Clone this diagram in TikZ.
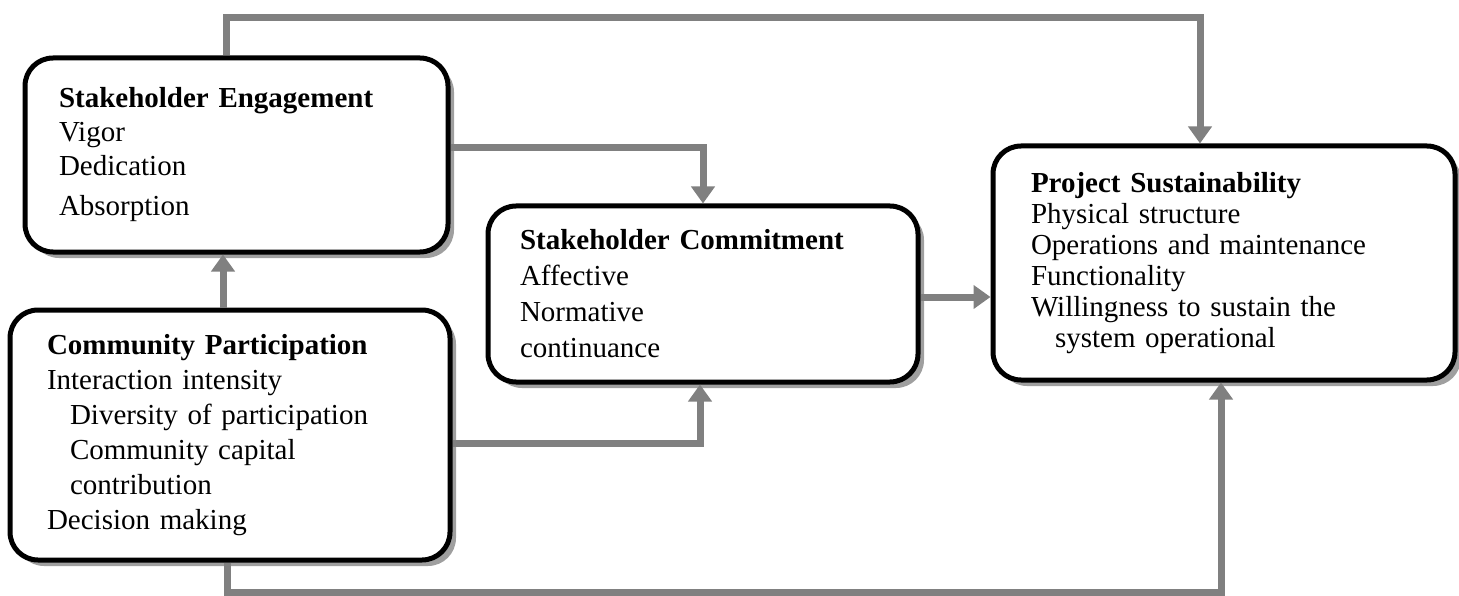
\documentclass[tikz,border=0pt]{standalone}
\usepackage{fontspec}
\setmainfont{Liberation Serif}
\usetikzlibrary{arrows.meta,shadows}

\begin{document}
\begin{tikzpicture}[x=1pt,y=-1pt,
    box/.style={draw,line width=5pt,rounded corners=28pt,fill=white,align=left,
      drop shadow={shadow xshift=6pt,shadow yshift=-6pt,fill=gray!75,opacity=1}},
    conn/.style={draw=gray,line width=7pt,-{Triangle[length=17pt,width=23pt]}}]
    \useasboundingbox (0,0) rectangle (1459,596);
    \node[box,text width=355pt,inner xsep=34pt,minimum height=194pt,
      font=\fontsize{29}{34}\selectfont] (eng) at (236.5,155)
      {\textbf{Stakeholder Engagement}\\ Vigor\\ Dedication\\[6pt] Absorption};
    \node[box,text width=366pt,inner xsep=37pt,minimum height=250pt,
      font=\fontsize{29}{35}\selectfont] (com) at (230,435)
      {\textbf{Community Participation}\\ Interaction intensity\\
       \hspace*{23pt}Diversity of participation\\ \hspace*{23pt}Community capital\\
       \hspace*{23pt}contribution\\ Decision making};
    \node[box,text width=366pt,inner xsep=32pt,minimum height=176pt,
      font=\fontsize{29}{36}\selectfont] (cmt) at (703,294)
      {\textbf{Stakeholder Commitment}\\ Affective\\ Normative\\ continuance};
    \node[box,text width=386pt,inner xsep=38pt,minimum height=234pt,
      font=\fontsize{29}{31}\selectfont] (sus) at (1224,263)
      {\textbf{Project Sustainability}\\ Physical structure\\ Operations and maintenance\\
       Functionality\\ Willingness to sustain the\\ \hspace*{24pt}system operational};

    \draw[conn] ([xshift=-10pt]eng.north) -- ++(0,-38) -| ([xshift=-24pt]sus.north);
    \draw[conn] ([yshift=7pt]eng.east) -| (cmt.north);
    \draw[conn] ([xshift=-7pt]com.north) -- ([xshift=-7pt]com.north |- eng.south);
    \draw[conn] ([yshift=-8pt]com.east) -| ([xshift=-3pt]cmt.south);
    \draw[conn] ([yshift=-3pt]cmt.east) -- ([yshift=-3pt]cmt.east -| sus.west);
    \draw[conn] ([xshift=-3pt]com.south) -- ++(0,30) -| ([xshift=-3pt]sus.south);
\end{tikzpicture}
\end{document}
